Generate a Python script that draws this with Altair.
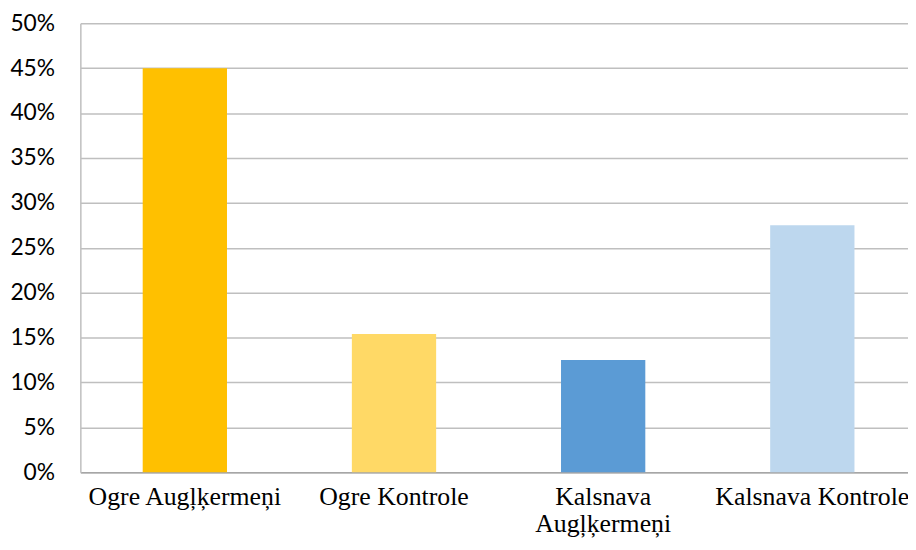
import altair as alt
import pandas as pd

categories = ["Ogre Augļķermeņi", "Ogre Kontrole", "Kalsnava Augļķermeņi", "Kalsnava Kontrole"]
values = [0.45, 0.154, 0.125, 0.275]
colors = ["#FFC000", "#FFD966", "#5B9BD5", "#BDD7EE"]
y_ticks = [0, 0.05, 0.10, 0.15, 0.20, 0.25, 0.30, 0.35, 0.40, 0.45, 0.50]

df = pd.DataFrame({"cat": categories, "val": values, "color": colors})

chart = alt.Chart(df).mark_bar().encode(
    x=alt.X("cat:N", sort=categories,
            scale=alt.Scale(paddingInner=0.597, paddingOuter=0.277, align=0.538),
            axis=alt.Axis(title=None, labelAngle=0, ticks=False, domainColor="#a6a6a6",
                          domainWidth=1.5, labelFont="Liberation Serif", labelFontSize=26,
                          labelColor="#000000", labelPadding=33, labelLineHeight=27,
                          labelBaseline="alphabetic", labelLimit=400,
                          labelExpr="datum.label == 'Kalsnava Augļķermeņi' ? ['Kalsnava', 'Augļķermeņi'] : datum.label")),
    y=alt.Y("val:Q", scale=alt.Scale(domain=[0, 0.5], nice=False),
            axis=alt.Axis(title=None, format=".0%", values=y_ticks, ticks=False,
                          domainColor="#bfbfbf", domainWidth=1.5, gridColor="#bfbfbf",
                          gridWidth=1.5, labelFont="Lato", labelFontSize=23,
                          labelColor="#000000", labelPadding=26)),
    color=alt.Color("color:N", scale=None, legend=None),
).properties(
    width=835, height=453,
    autosize=alt.AutoSizeParams(type="none"),
    padding={"left": 73, "top": 13, "right": 0, "bottom": 68},
).configure_view(stroke=None)

chart.save("out.html", embed_options={"renderer": "svg", "actions": False})
